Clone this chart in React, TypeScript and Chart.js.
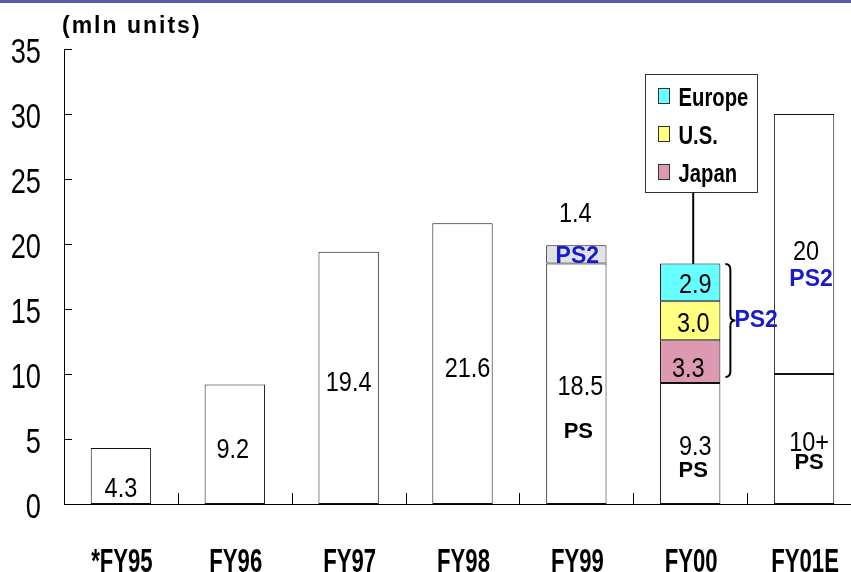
import React, { useEffect, useRef } from "react";
import { Chart, registerables } from "chart.js";

Chart.register(...registerables);

// ---------- data ----------
const categories = ["*FY95", "FY96", "FY97", "FY98", "FY99", "FY00", "FY01E"];
const psUnits = [4.3, 9.2, 19.4, 21.6, 18.5, 9.3, 10];
const ps2Fy99 = [null, null, null, null, 1.4, null, null];
const ps2Japan = [null, null, null, null, null, 3.3, null];
const ps2US = [null, null, null, null, null, 3.0, null];
const ps2Europe = [null, null, null, null, null, 2.9, null];
const ps2Forecast = [null, null, null, null, null, null, 20];
const yTickValues = [0, 5, 10, 15, 20, 25, 30, 35];
const unitLabel = "(mln units)";

// ---------- styling ----------
const SANS = '"Liberation Sans", Arial, sans-serif';
const BLUE = "#1a1acd";
const C_JAPAN = "#dd99b1";
const C_US = "#ffff80";
const C_EUROPE = "#66ffff";
const C_GRAY = "#e2e2e2";

// annotation texts: category index, text, y-position (in data units), x offset px, style
type Ann = { c: number; t: string; v: number; dx: number; s: "num" | "ps" | "ps2" };
const annotations: Ann[] = [
  { c: 0, t: "4.3", v: 1.3, dx: 0, s: "num" },
  { c: 1, t: "9.2", v: 4.3, dx: -2, s: "num" },
  { c: 2, t: "19.4", v: 9.4, dx: 0, s: "num" },
  { c: 3, t: "21.6", v: 10.5, dx: 5, s: "num" },
  { c: 4, t: "1.4", v: 22.4, dx: -1, s: "num" },
  { c: 4, t: "PS2", v: 19.2, dx: 1, s: "ps2" },
  { c: 4, t: "18.5", v: 9.1, dx: 4, s: "num" },
  { c: 4, t: "PS", v: 5.65, dx: 2, s: "ps" },
  { c: 5, t: "2.9", v: 17.0, dx: 5, s: "num" },
  { c: 5, t: "3.0", v: 14.0, dx: 3, s: "num" },
  { c: 5, t: "3.3", v: 10.5, dx: -2, s: "num" },
  { c: 5, t: "9.3", v: 4.55, dx: 5, s: "num" },
  { c: 5, t: "PS", v: 2.7, dx: 3, s: "ps" },
  { c: 6, t: "20", v: 19.5, dx: 2, s: "num" },
  { c: 6, t: "PS2", v: 17.4, dx: 7, s: "ps2" },
  { c: 6, t: "10+", v: 4.85, dx: 5, s: "num" },
  { c: 6, t: "PS", v: 3.3, dx: 5, s: "ps" },
];

// draw text whose vertical centre of capitals sits at y; sx/sy stretch the glyphs
function drawText(
  ctx: CanvasRenderingContext2D,
  s: string,
  x: number,
  y: number,
  size: number,
  bold: boolean,
  color: string,
  align: CanvasTextAlign = "center",
  sx = 1,
  sy = 1,
  spacing = 0
) {
  ctx.save();
  ctx.font = `${bold ? "bold " : ""}${size}px ${SANS}`;
  (ctx as any).letterSpacing = spacing ? `${spacing}px` : "0px";
  ctx.fillStyle = color;
  ctx.textAlign = align;
  ctx.textBaseline = "alphabetic";
  ctx.translate(x, y);
  ctx.scale(sx, sy);
  ctx.fillText(s, 0, (size * 0.716) / 2);
  ctx.restore();
}

const overlayPlugin = {
  id: "overlay",
  afterDraw(chart: any) {
    const ctx: CanvasRenderingContext2D = chart.ctx;
    const xs = chart.scales.x;
    const ys = chart.scales.y;
    const ca = chart.chartArea;
    ctx.save();
    ctx.strokeStyle = "#000";
    ctx.lineWidth = 1;
    // inward y ticks + labels
    ys.ticks.forEach((t: any) => {
      const py = Math.round(ys.getPixelForValue(t.value)) + 0.5;
      ctx.beginPath();
      ctx.moveTo(ca.left, py);
      ctx.lineTo(ca.left + 8, py);
      ctx.stroke();
      drawText(ctx, String(t.value), ca.left - 23, py + 1, 34, false, "#000", "right", 0.8, 1.02);
    });
    // inward x ticks at category boundaries
    for (let k = 1; k < categories.length; k++) {
      const px = Math.round(xs.getPixelForValue(k - 0.5)) + 0.5;
      ctx.beginPath();
      ctx.moveTo(px, ca.bottom);
      ctx.lineTo(px, ca.bottom - 11);
      ctx.stroke();
    }
    // category labels
    categories.forEach((c, i) => {
      drawText(ctx, c, xs.getPixelForValue(i) + 1, ca.bottom + 56, 28, true, "#000", "center", 0.79, 1.2);
    });

    // unit label
    drawText(ctx, unitLabel, ca.left - 2, 24, 23, true, "#000", "left", 1, 1.05, 2);

    // annotation texts
    annotations.forEach((a) => {
      const px = xs.getPixelForValue(a.c) + a.dx;
      const py = ys.getPixelForValue(a.v);
      if (a.s === "num") drawText(ctx, a.t, px, py, 27, false, "#000", "center", 0.87, 1);
      else if (a.s === "ps") drawText(ctx, a.t, px, py, 22, true, "#000");
      else drawText(ctx, a.t, px, py, 23, true, BLUE);
    });

    // brace + PS2 next to FY00 stack
    const ci = 5;
    const meta = chart.getDatasetMeta(0);
    const bar = meta.data[ci];
    const barRight = bar.x + bar.width / 2;
    const total = (psUnits[ci] || 0) + (ps2Japan[ci] || 0) + (ps2US[ci] || 0) + (ps2Europe[ci] || 0);
    const top = ys.getPixelForValue(total) + 0.5;
    const bot = ys.getPixelForValue(psUnits[ci]) - 6;
    const mid = (top + bot) / 2;
    const bx = barRight + 5;
    ctx.lineWidth = 2;
    ctx.strokeStyle = "#000";
    ctx.beginPath();
    ctx.moveTo(bx, top);
    ctx.quadraticCurveTo(bx + 5, top, bx + 5, top + 6);
    ctx.lineTo(bx + 5, mid - 5);
    ctx.quadraticCurveTo(bx + 5, mid, bx + 10, mid);
    ctx.quadraticCurveTo(bx + 5, mid, bx + 5, mid + 5);
    ctx.lineTo(bx + 5, bot - 6);
    ctx.quadraticCurveTo(bx + 5, bot, bx, bot);
    ctx.stroke();
    drawText(ctx, "PS2", bx + 9, mid - 2, 23, true, BLUE, "left");

    // legend box
    const cx = xs.getPixelForValue(ci);
    const lx = Math.round(cx - 45) + 0.5;
    const lt = Math.round(ys.getPixelForValue(33.1)) + 0.5;
    const lw = 112;
    const lh = 118;
    ctx.lineWidth = 1;
    ctx.strokeStyle = "#333";
    ctx.fillStyle = "#fff";
    ctx.fillRect(lx, lt, lw, lh);
    ctx.strokeRect(lx, lt, lw, lh);
    const items = [4, 3, 2].map((i) => chart.data.datasets[i]);
    items.forEach((ds: any, j: number) => {
      const iy = lt + 22 + j * 38;
      ctx.fillStyle = ds.backgroundColor;
      ctx.fillRect(lx + 13, iy - 8, 11, 15);
      ctx.strokeStyle = "#333";
      ctx.strokeRect(lx + 13, iy - 8, 11, 15);
      drawText(ctx, ds.label, lx + 33, iy + 1, 25, true, "#000", "left", 0.81, 1);
    });
    // connector from legend to bar top
    ctx.lineWidth = 2;
    ctx.strokeStyle = "#000";
    ctx.beginPath();
    ctx.moveTo(cx + 3, lt + lh);
    ctx.lineTo(cx + 3, top);
    ctx.stroke();
    ctx.restore();
  },
};

export default function App() {
  const ref = useRef<HTMLCanvasElement | null>(null);
  useEffect(() => {
    if (!ref.current) return;
    const common = {
      borderColor: "#111",
      borderWidth: 1,
      borderSkipped: false,
      barPercentage: 0.53,
      categoryPercentage: 1,
    };
    const chart = new Chart(ref.current, {
      type: "bar",
      data: {
        labels: categories,
        datasets: [
          { label: "PS", data: psUnits, backgroundColor: "#fff", ...common },
          { label: "PS2 FY99", data: ps2Fy99 as any, backgroundColor: C_GRAY, ...common },
          { label: "Japan", data: ps2Japan as any, backgroundColor: C_JAPAN, ...common },
          { label: "U.S.", data: ps2US as any, backgroundColor: C_US, ...common },
          { label: "Europe", data: ps2Europe as any, backgroundColor: C_EUROPE, ...common },
          { label: "PS2 FY01E", data: ps2Forecast as any, backgroundColor: "#fff", ...common },
        ] as any,
      },
      options: {
        responsive: false,
        animation: false,
        layout: { padding: { top: 49, right: 1, bottom: 0, left: 0 } },
        plugins: {
          legend: { display: false },
          tooltip: { enabled: false },
        },
        scales: {
          x: {
            stacked: true,
            grid: { display: false },
            border: { display: true, color: "#000", width: 1 },
            ticks: { display: false },
            afterFit: (s: any) => {
              s.height = 68;
              s.paddingLeft = 0;
              s.paddingRight = 0;
            },
          },
          y: {
            stacked: true,
            min: 0,
            max: 35,
            grid: { display: false },
            border: { display: true, color: "#000", width: 1 },
            afterBuildTicks: (s: any) => {
              s.ticks = yTickValues.map((v) => ({ value: v }));
            },
            ticks: { display: false },
            afterFit: (s: any) => {
              s.width = 64;
              s.paddingTop = 0;
              s.paddingBottom = 0;
            },
          },
        },
      } as any,
      plugins: [overlayPlugin],
    });
    return () => chart.destroy();
  }, []);
  return (
    <div style={{ position: "fixed", left: 0, top: 0, width: 851, height: 572, overflow: "hidden", background: "#fff" }}>
      <canvas ref={ref} width={862} height={572} style={{ display: "block" }} />
      <div style={{ position: "absolute", left: 0, top: 0, width: 851, height: 3, background: "#5c5ca6" }} />
    </div>
  );
}
